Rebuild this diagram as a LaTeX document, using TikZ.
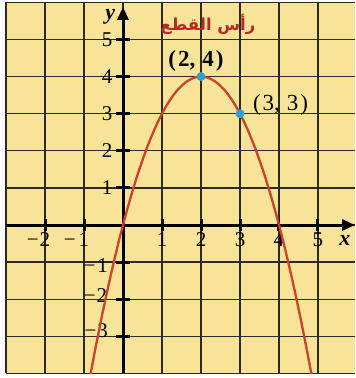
\documentclass[tikz,border=0pt]{standalone}
\usepackage{fontspec}
\setmainfont{Liberation Serif}
\newfontfamily\arabicfont[Script=Arabic]{DejaVu Sans}
\TeXXeTstate=1
\usetikzlibrary{arrows.meta}
\definecolor{paperyellow}{RGB}{247,228,152}
\definecolor{gridgrey}{RGB}{45,42,35}
\definecolor{curvered}{RGB}{205,65,45}
\definecolor{dotblue}{RGB}{45,160,205}
\definecolor{labelred}{RGB}{185,40,35}
\tikzset{
  gridline/.style={draw=gridgrey,line width=1.3pt},
  axisline/.style={draw=black,line width=3pt},
  tickmark/.style={draw=black,line width=3pt},
  ticklabel/.style={inner sep=0pt,font=\fontsize{21}{23}\selectfont},
  axislabel/.style={inner sep=0pt,font=\fontsize{22}{24}\selectfont\bfseries\itshape},
  ptlabel/.style={inner sep=0pt,font=\fontsize{23}{25}\selectfont},
  dot/.style={circle,fill=dotblue,inner sep=0pt,minimum size=9pt},
  parab/.style={draw=curvered,line width=2.3pt}
}
\begin{document}
\begin{tikzpicture}[x=39pt,y=37.1pt]
\useasboundingbox (-3.154,-4.124) rectangle (5.949,6.065);
\fill[paperyellow] (-3,-4) rectangle (5.949,6);
\foreach \i in {-3,...,5} { \draw[gridline] (\i,-4) -- (\i,6); }
\foreach \j in {-4,...,6} { \draw[gridline] (-3,\j) -- (5.949,\j); }
% axes
\coordinate (xl) at (-3,0);
\coordinate (xr) at (5.949,0);
\coordinate (yb) at (0,-4);
\coordinate (yt) at (0,5.88);
\draw[axisline,-{Triangle[length=13pt,width=11pt]}] (xl) -- (xr);
\draw[axisline,-{Triangle[length=13pt,width=11pt]}] (yb) -- (yt);
% ticks
\foreach \i in {-2,-1,1,2,3,4,5} {
  \draw[tickmark] (\i,0) ++(0,-6pt) -- ++(0,12pt);
}
\foreach \j in {-3,-2,-1,1,2,3,4,5} {
  \draw[tickmark] (0,\j) ++(-7pt,0) -- ++(14pt,0);
}
% x tick labels
\foreach \i in {1,2,3,4,5} {
  \node[ticklabel] (xt\i) at (\i,-0.4) {\i};
}
\node[ticklabel] (xtm2) at (-2,-0.4) {\llap{−\kern1pt}2};
\node[ticklabel] (xtm1) at (-1,-0.4) {\llap{−\kern3pt}1};
% y tick labels
\foreach \j in {1,2,3,4,5} {
  \node[ticklabel,anchor=east] (yt\j) at (-0.27,\j) {\j};
}
\node[ticklabel,anchor=east] (ytm1) at (-0.38,-1.1) {−\kern2pt1};
\node[ticklabel,anchor=east] (ytm2) at (-0.40,-1.9) {−\kern1pt2};
\node[ticklabel,anchor=east] (ytm3) at (-0.38,-2.85) {−\kern1pt3};
% axis labels
\node[axislabel] (xlab) at (5.69,-0.42) {x};
\node[axislabel] (ylab) at (-0.33,5.62) {y};
% parabola
\begin{scope}
\clip (-3,-4) rectangle (5.949,6);
\draw[parab,domain=-0.9:4.9,samples=80,smooth] plot (\x,{-(\x)*(\x)+4*(\x)});
\end{scope}
% points
\node[dot] (v) at (2,4) {};
\node[dot] (p) at (3,3) {};
\node[ptlabel,font=\fontsize{23}{25}\selectfont\bfseries] (vlab) at (1.87,4.42) {(\kern2pt2,\kern7pt4\kern2pt)};
\node[ptlabel,anchor=west] (plab) at (3.33,3.23) {(\kern2pt3,\kern7pt3\kern2pt)};
\node[inner sep=0pt,text=labelred,font=\arabicfont\bfseries\fontsize{16.5}{20}\selectfont] (vtitle) at (2.18,5.4) {\beginR رأس القطع\endR};
\end{tikzpicture}
\end{document}
